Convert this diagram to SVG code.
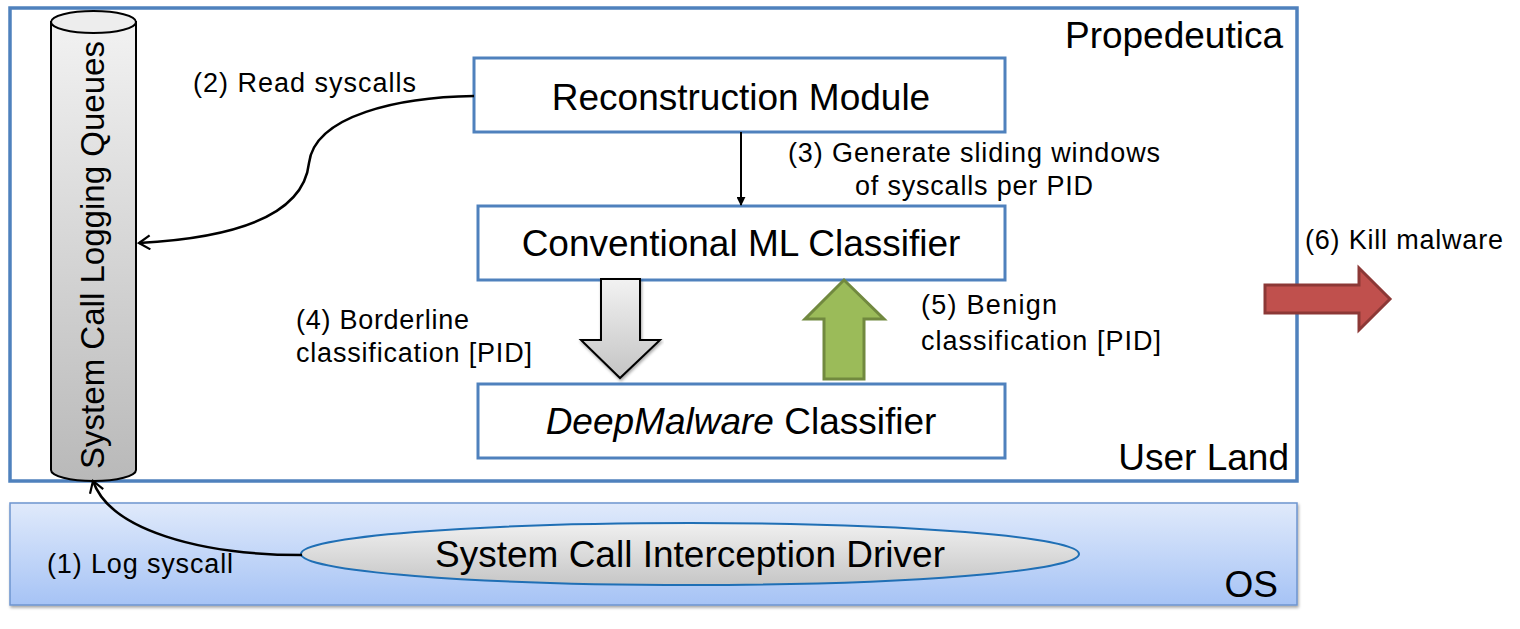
<svg xmlns="http://www.w3.org/2000/svg" width="1520" height="629" viewBox="0 0 1520 629">
<defs>
<linearGradient id="osg" x1="0" y1="0" x2="0" y2="1"><stop offset="0" stop-color="#e0eafb"/><stop offset="1" stop-color="#a6c3f5"/></linearGradient>
<linearGradient id="cylg" x1="0" y1="0" x2="0" y2="1"><stop offset="0" stop-color="#f2f2f2"/><stop offset="1" stop-color="#b9b9b9"/></linearGradient>
<linearGradient id="ellg" x1="0" y1="0" x2="0" y2="1"><stop offset="0" stop-color="#f0f0f0"/><stop offset="1" stop-color="#c6c6c6"/></linearGradient>
<linearGradient id="grayarr" x1="0" y1="0" x2="0" y2="1"><stop offset="0" stop-color="#f2f2f2"/><stop offset="1" stop-color="#c4c4c4"/></linearGradient>
<filter id="sh" x="-5%" y="-20%" width="110%" height="140%"><feDropShadow dx="1" dy="2" stdDeviation="1.5" flood-color="#000" flood-opacity="0.35"/></filter>
<marker id="ah" viewBox="0 0 14 16" refX="12" refY="8" markerWidth="14" markerHeight="16" markerUnits="userSpaceOnUse" orient="auto"><path d="M1,1 L12,8 L1,15" fill="none" stroke="#000" stroke-width="2.2"/></marker>
<marker id="sm" viewBox="0 0 10 10" refX="9" refY="5" markerWidth="9" markerHeight="9" markerUnits="userSpaceOnUse" orient="auto"><path d="M0,0 L10,5 L0,10 Z" fill="#000"/></marker>
</defs>
<style>
text{font-family:"Liberation Sans",Arial,sans-serif;fill:#000}
.lbl{font-size:27px}
.big{font-size:37px}
.box{fill:#fff;stroke:#4f81bd;stroke-width:3}
.conn{fill:none;stroke:#000;stroke-width:2.5}
</style>
<g id="userland">
<rect x="10" y="8" width="1287" height="473" fill="#fff" stroke="#4f81bd" stroke-width="3.5"/>
<text class="big" x="1283" y="48" text-anchor="end">Propedeutica</text>
<text class="big" x="1289" y="470" text-anchor="end">User Land</text>
</g>
<g id="os">
<rect x="10" y="503" width="1287" height="102" fill="url(#osg)" stroke="#6d95cf" stroke-width="1.5" filter="url(#sh)"/>
<text class="big" x="1278" y="597" text-anchor="end">OS</text>
</g>
<g id="queues">
<path d="M51,22 L51,470 A42.5,11 0 0 0 136,470 L136,22 Z" fill="url(#cylg)" stroke="#000" stroke-width="2"/>
<ellipse cx="93.5" cy="22" rx="42.5" ry="11" fill="#ededed" stroke="#000" stroke-width="2"/>
<text font-size="33" transform="translate(104,255) rotate(-90)" text-anchor="middle" textLength="428" lengthAdjust="spacingAndGlyphs">System Call Logging  Queues</text>
</g>
<g id="reconstruction">
<rect class="box" x="474" y="58" width="531" height="74"/>
<text class="big" x="741" y="110" text-anchor="middle">Reconstruction Module</text>
</g>
<g id="conventional">
<rect class="box" x="478" y="206" width="527" height="74"/>
<text class="big" x="741" y="256" text-anchor="middle">Conventional ML Classifier</text>
</g>
<g id="deepmalware">
<rect class="box" x="478" y="384" width="527" height="74"/>
<text class="big" x="741" y="434" text-anchor="middle"><tspan font-style="italic">DeepMalware</tspan> Classifier</text>
</g>
<g id="driver">
<ellipse cx="690" cy="554" rx="389" ry="31" fill="url(#ellg)" stroke="#1f6fb5" stroke-width="2"/>
<text class="big" x="690" y="567" text-anchor="middle">System Call Interception Driver</text>
</g>
<g id="connectors">
<path class="conn" d="M302,555 C200,555 110,530 93,481" marker-end="url(#ah)"/>
<path class="conn" d="M474,96 C400,97 315,115 309,163 C305,200 270,236 139,243" marker-end="url(#ah)"/>
<path d="M741,132 L741,205" fill="none" stroke="#000" stroke-width="2" marker-end="url(#sm)"/>
<path d="M601,279 L640,279 L640,340 L660,340 L620,378 L581,340 L601,340 Z" fill="url(#grayarr)" stroke="#000" stroke-width="2" filter="url(#sh)"/>
<path d="M844,280 L884,319 L864,319 L864,379 L824,379 L824,319 L805,319 Z" fill="#9bbb59" stroke="#71893f" stroke-width="3"/>
<path d="M1265,285 L1359,285 L1359,268 L1390,299 L1359,330 L1359,313 L1265,313 Z" fill="#c0504d" stroke="#8c3836" stroke-width="3"/>
</g>
<g id="labels">
<text class="lbl" x="193" y="92" textLength="223" lengthAdjust="spacing">(2) Read syscalls</text>
<text class="lbl" x="788" y="162" textLength="372" lengthAdjust="spacing">(3) Generate sliding windows</text>
<text class="lbl" x="855" y="195" textLength="238" lengthAdjust="spacing">of syscalls per PID</text>
<text class="lbl" x="1305" y="249" textLength="198" lengthAdjust="spacing">(6) Kill malware</text>
<text class="lbl" x="296" y="329" textLength="173" lengthAdjust="spacing">(4) Borderline</text>
<text class="lbl" x="296" y="362" textLength="236" lengthAdjust="spacing">classification [PID]</text>
<text class="lbl" x="921" y="314" textLength="136" lengthAdjust="spacing">(5) Benign</text>
<text class="lbl" x="921" y="350" textLength="240" lengthAdjust="spacing">classification [PID]</text>
<text class="lbl" x="47" y="573" textLength="186" lengthAdjust="spacing">(1) Log syscall</text>
</g>
</svg>
